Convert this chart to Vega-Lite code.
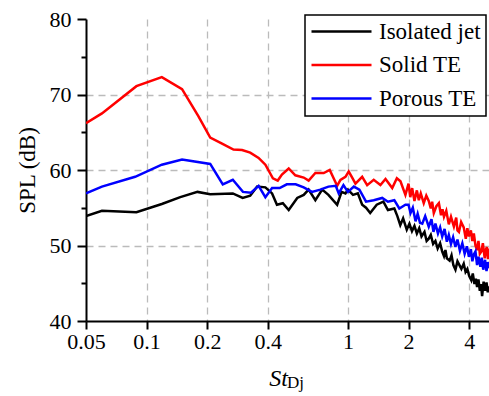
{
"$schema": "https://vega.github.io/schema/vega-lite/v6.json",
"width": 403, "height": 302,
"autosize": {"type": "none"},
"padding": {"left": 86, "top": 19, "right": 0, "bottom": 75},
"background": "white",
"config": {"view": {"stroke": null}, "font": "Liberation Serif",
  "axis": {"labelFont": "Liberation Serif", "titleFont": "Liberation Serif"},
  "legend": {"strokeWidth": 1.5, "labelFont": "Liberation Serif"}},
"title": {"text": "Dj", "orient": "bottom", "anchor": "middle", "fontSize": 17, "fontWeight": "normal", "font": "Liberation Serif", "color": "black", "dx": 8, "dy": -6, "baseline": "alphabetic"},
"data": {"values": [
{"c":"Isolated jet","st":0.05,"spl":53.9},{"c":"Isolated jet","st":0.06,"spl":54.6},{"c":"Isolated jet","st":0.089,"spl":54.4},{"c":"Isolated jet","st":0.119,"spl":55.5},{"c":"Isolated jet","st":0.147,"spl":56.4},{"c":"Isolated jet","st":0.179,"spl":57.1},{"c":"Isolated jet","st":0.207,"spl":56.8},{"c":"Isolated jet","st":0.268,"spl":56.9},{"c":"Isolated jet","st":0.3,"spl":56.3},{"c":"Isolated jet","st":0.327,"spl":56.6},{"c":"Isolated jet","st":0.354,"spl":57.8},{"c":"Isolated jet","st":0.389,"spl":57.7},{"c":"Isolated jet","st":0.42,"spl":56.9},{"c":"Isolated jet","st":0.444,"spl":55.4},{"c":"Isolated jet","st":0.475,"spl":55.6},{"c":"Isolated jet","st":0.508,"spl":54.7},{"c":"Isolated jet","st":0.56,"spl":56.3},{"c":"Isolated jet","st":0.603,"spl":56.7},{"c":"Isolated jet","st":0.638,"spl":57.4},{"c":"Isolated jet","st":0.689,"spl":56.0},{"c":"Isolated jet","st":0.745,"spl":57.4},{"c":"Isolated jet","st":0.8,"spl":56.7},{"c":"Isolated jet","st":0.884,"spl":55.4},{"c":"Isolated jet","st":0.93,"spl":57.1},{"c":"Isolated jet","st":0.972,"spl":56.9},{"c":"Isolated jet","st":1.0,"spl":57.4},{"c":"Isolated jet","st":1.06,"spl":56.7},{"c":"Isolated jet","st":1.12,"spl":56.9},{"c":"Isolated jet","st":1.177,"spl":55.4},{"c":"Isolated jet","st":1.23,"spl":55.0},{"c":"Isolated jet","st":1.29,"spl":54.3},{"c":"Isolated jet","st":1.39,"spl":55.4},{"c":"Isolated jet","st":1.5,"spl":55.8},{"c":"Isolated jet","st":1.58,"spl":54.7},{"c":"Isolated jet","st":1.7,"spl":54.9},{"c":"Isolated jet","st":1.76,"spl":53.9},{"c":"Isolated jet","st":1.82,"spl":52.7},{"c":"Isolated jet","st":1.88,"spl":53.6},{"c":"Isolated jet","st":1.96,"spl":52.1},
{"c":"Isolated jet","st":2.02,"spl":52.9},{"c":"Isolated jet","st":2.08,"spl":51.9},{"c":"Isolated jet","st":2.14,"spl":52.6},{"c":"Isolated jet","st":2.2,"spl":51.6},{"c":"Isolated jet","st":2.26,"spl":52.3},{"c":"Isolated jet","st":2.32,"spl":51.2},{"c":"Isolated jet","st":2.4,"spl":51.8},{"c":"Isolated jet","st":2.46,"spl":50.6},{"c":"Isolated jet","st":2.52,"spl":50.9},{"c":"Isolated jet","st":2.58,"spl":51.4},{"c":"Isolated jet","st":2.65,"spl":50.2},{"c":"Isolated jet","st":2.72,"spl":50.6},{"c":"Isolated jet","st":2.79,"spl":49.6},{"c":"Isolated jet","st":2.87,"spl":50.3},{"c":"Isolated jet","st":2.94,"spl":49.2},{"c":"Isolated jet","st":3.0,"spl":48.6},{"c":"Isolated jet","st":3.05,"spl":49.4},{"c":"Isolated jet","st":3.1,"spl":48.3},{"c":"Isolated jet","st":3.2,"spl":48.0},{"c":"Isolated jet","st":3.27,"spl":48.7},{"c":"Isolated jet","st":3.34,"spl":47.4},{"c":"Isolated jet","st":3.42,"spl":46.8},{"c":"Isolated jet","st":3.5,"spl":47.9},{"c":"Isolated jet","st":3.58,"spl":47.4},{"c":"Isolated jet","st":3.66,"spl":46.9},{"c":"Isolated jet","st":3.76,"spl":47.6},{"c":"Isolated jet","st":3.84,"spl":46.5},{"c":"Isolated jet","st":3.92,"spl":46.9},{"c":"Isolated jet","st":4.0,"spl":46.0},{"c":"Isolated jet","st":4.1,"spl":45.4},{"c":"Isolated jet","st":4.17,"spl":46.3},{"c":"Isolated jet","st":4.25,"spl":44.9},{"c":"Isolated jet","st":4.32,"spl":45.6},{"c":"Isolated jet","st":4.38,"spl":44.5},{"c":"Isolated jet","st":4.45,"spl":45.5},{"c":"Isolated jet","st":4.52,"spl":44.0},{"c":"Isolated jet","st":4.58,"spl":44.9},{"c":"Isolated jet","st":4.64,"spl":43.3},{"c":"Isolated jet","st":4.72,"spl":45.2},{"c":"Isolated jet","st":4.8,"spl":44.0},{"c":"Isolated jet","st":4.88,"spl":45.1},{"c":"Isolated jet","st":4.95,"spl":43.8},{"c":"Isolated jet","st":5.02,"spl":44.6},
{"c":"Solid TE","st":0.05,"spl":66.2},{"c":"Solid TE","st":0.06,"spl":67.5},{"c":"Solid TE","st":0.089,"spl":71.1},{"c":"Solid TE","st":0.119,"spl":72.3},{"c":"Solid TE","st":0.15,"spl":70.7},{"c":"Solid TE","st":0.181,"spl":67.1},{"c":"Solid TE","st":0.207,"spl":64.3},{"c":"Solid TE","st":0.237,"spl":63.5},{"c":"Solid TE","st":0.27,"spl":62.7},{"c":"Solid TE","st":0.298,"spl":62.65},{"c":"Solid TE","st":0.327,"spl":62.3},{"c":"Solid TE","st":0.36,"spl":61.6},{"c":"Solid TE","st":0.389,"spl":60.7},{"c":"Solid TE","st":0.424,"spl":58.9},{"c":"Solid TE","st":0.448,"spl":58.6},{"c":"Solid TE","st":0.47,"spl":59.4},{"c":"Solid TE","st":0.508,"spl":60.2},{"c":"Solid TE","st":0.548,"spl":59.3},{"c":"Solid TE","st":0.603,"spl":59.0},{"c":"Solid TE","st":0.638,"spl":58.6},{"c":"Solid TE","st":0.689,"spl":59.6},{"c":"Solid TE","st":0.758,"spl":59.6},{"c":"Solid TE","st":0.812,"spl":60.0},{"c":"Solid TE","st":0.884,"spl":57.9},{"c":"Solid TE","st":0.918,"spl":58.7},{"c":"Solid TE","st":0.972,"spl":59.1},{"c":"Solid TE","st":1.009,"spl":59.8},{"c":"Solid TE","st":1.05,"spl":59.0},{"c":"Solid TE","st":1.09,"spl":58.2},{"c":"Solid TE","st":1.177,"spl":59.1},{"c":"Solid TE","st":1.246,"spl":58.0},{"c":"Solid TE","st":1.343,"spl":58.7},{"c":"Solid TE","st":1.45,"spl":58.0},{"c":"Solid TE","st":1.537,"spl":58.8},{"c":"Solid TE","st":1.66,"spl":57.6},{"c":"Solid TE","st":1.75,"spl":58.9},{"c":"Solid TE","st":1.824,"spl":58.5},{"c":"Solid TE","st":1.93,"spl":56.7},
{"c":"Solid TE","st":2.0,"spl":58.2},{"c":"Solid TE","st":2.04,"spl":56.4},{"c":"Solid TE","st":2.085,"spl":57.6},{"c":"Solid TE","st":2.14,"spl":55.9},{"c":"Solid TE","st":2.2,"spl":57.3},{"c":"Solid TE","st":2.25,"spl":56.0},{"c":"Solid TE","st":2.3,"spl":56.9},{"c":"Solid TE","st":2.38,"spl":55.6},{"c":"Solid TE","st":2.45,"spl":56.6},{"c":"Solid TE","st":2.52,"spl":55.9},{"c":"Solid TE","st":2.58,"spl":54.9},{"c":"Solid TE","st":2.62,"spl":55.8},{"c":"Solid TE","st":2.67,"spl":54.3},{"c":"Solid TE","st":2.75,"spl":55.2},{"c":"Solid TE","st":2.83,"spl":55.6},{"c":"Solid TE","st":2.9,"spl":54.0},{"c":"Solid TE","st":2.95,"spl":54.8},{"c":"Solid TE","st":3.0,"spl":53.8},{"c":"Solid TE","st":3.08,"spl":54.6},{"c":"Solid TE","st":3.17,"spl":52.8},{"c":"Solid TE","st":3.25,"spl":53.8},{"c":"Solid TE","st":3.36,"spl":52.5},{"c":"Solid TE","st":3.45,"spl":53.7},{"c":"Solid TE","st":3.5,"spl":52.0},{"c":"Solid TE","st":3.56,"spl":51.8},{"c":"Solid TE","st":3.65,"spl":53.1},{"c":"Solid TE","st":3.76,"spl":52.4},{"c":"Solid TE","st":3.85,"spl":50.9},{"c":"Solid TE","st":3.92,"spl":52.3},{"c":"Solid TE","st":3.99,"spl":51.2},{"c":"Solid TE","st":4.08,"spl":52.0},{"c":"Solid TE","st":4.15,"spl":50.6},{"c":"Solid TE","st":4.22,"spl":51.6},{"c":"Solid TE","st":4.3,"spl":50.0},{"c":"Solid TE","st":4.38,"spl":49.4},{"c":"Solid TE","st":4.45,"spl":50.6},{"c":"Solid TE","st":4.52,"spl":48.9},{"c":"Solid TE","st":4.6,"spl":49.2},{"c":"Solid TE","st":4.68,"spl":50.3},{"c":"Solid TE","st":4.78,"spl":48.3},{"c":"Solid TE","st":4.85,"spl":49.5},{"c":"Solid TE","st":4.9,"spl":49.8},{"c":"Solid TE","st":4.96,"spl":48.2},{"c":"Solid TE","st":5.02,"spl":49.6},
{"c":"Porous TE","st":0.05,"spl":56.9},{"c":"Porous TE","st":0.06,"spl":57.8},{"c":"Porous TE","st":0.0877,"spl":59.1},{"c":"Porous TE","st":0.119,"spl":60.7},{"c":"Porous TE","st":0.15,"spl":61.4},{"c":"Porous TE","st":0.207,"spl":60.8},{"c":"Porous TE","st":0.239,"spl":58.1},{"c":"Porous TE","st":0.268,"spl":58.7},{"c":"Porous TE","st":0.301,"spl":57.1},{"c":"Porous TE","st":0.33,"spl":57.0},{"c":"Porous TE","st":0.36,"spl":57.9},{"c":"Porous TE","st":0.389,"spl":56.4},{"c":"Porous TE","st":0.42,"spl":57.6},{"c":"Porous TE","st":0.458,"spl":57.6},{"c":"Porous TE","st":0.497,"spl":58.1},{"c":"Porous TE","st":0.55,"spl":58.1},{"c":"Porous TE","st":0.603,"spl":57.7},{"c":"Porous TE","st":0.663,"spl":57.1},{"c":"Porous TE","st":0.729,"spl":57.4},{"c":"Porous TE","st":0.8,"spl":57.8},{"c":"Porous TE","st":0.87,"spl":57.9},{"c":"Porous TE","st":0.9,"spl":56.9},{"c":"Porous TE","st":0.95,"spl":58.0},{"c":"Porous TE","st":1.0,"spl":57.1},{"c":"Porous TE","st":1.07,"spl":57.8},{"c":"Porous TE","st":1.14,"spl":57.4},{"c":"Porous TE","st":1.23,"spl":55.8},{"c":"Porous TE","st":1.343,"spl":56.0},{"c":"Porous TE","st":1.48,"spl":56.3},{"c":"Porous TE","st":1.58,"spl":55.8},{"c":"Porous TE","st":1.7,"spl":56.0},{"c":"Porous TE","st":1.8,"spl":54.9},{"c":"Porous TE","st":1.93,"spl":55.4},
{"c":"Porous TE","st":2.0,"spl":55.4},{"c":"Porous TE","st":2.046,"spl":54.3},{"c":"Porous TE","st":2.1,"spl":55.0},{"c":"Porous TE","st":2.167,"spl":53.2},{"c":"Porous TE","st":2.22,"spl":54.2},{"c":"Porous TE","st":2.28,"spl":53.0},{"c":"Porous TE","st":2.34,"spl":52.9},{"c":"Porous TE","st":2.42,"spl":53.9},{"c":"Porous TE","st":2.52,"spl":52.5},{"c":"Porous TE","st":2.6,"spl":53.5},{"c":"Porous TE","st":2.66,"spl":51.8},{"c":"Porous TE","st":2.72,"spl":52.9},{"c":"Porous TE","st":2.8,"spl":51.6},{"c":"Porous TE","st":2.87,"spl":52.4},{"c":"Porous TE","st":2.94,"spl":51.2},{"c":"Porous TE","st":3.02,"spl":52.2},{"c":"Porous TE","st":3.1,"spl":50.5},{"c":"Porous TE","st":3.17,"spl":51.4},{"c":"Porous TE","st":3.25,"spl":50.2},{"c":"Porous TE","st":3.33,"spl":51.1},{"c":"Porous TE","st":3.42,"spl":49.8},{"c":"Porous TE","st":3.5,"spl":50.8},{"c":"Porous TE","st":3.6,"spl":49.3},{"c":"Porous TE","st":3.7,"spl":50.3},{"c":"Porous TE","st":3.8,"spl":48.9},{"c":"Porous TE","st":3.9,"spl":49.9},{"c":"Porous TE","st":3.99,"spl":48.5},{"c":"Porous TE","st":4.08,"spl":49.5},{"c":"Porous TE","st":4.15,"spl":47.9},{"c":"Porous TE","st":4.22,"spl":48.8},{"c":"Porous TE","st":4.3,"spl":49.2},{"c":"Porous TE","st":4.38,"spl":47.4},{"c":"Porous TE","st":4.45,"spl":48.5},{"c":"Porous TE","st":4.55,"spl":47.2},{"c":"Porous TE","st":4.62,"spl":48.4},{"c":"Porous TE","st":4.7,"spl":46.8},{"c":"Porous TE","st":4.8,"spl":48.1},{"c":"Porous TE","st":4.88,"spl":46.6},{"c":"Porous TE","st":4.95,"spl":47.8},{"c":"Porous TE","st":5.02,"spl":47.0}
]},
"mark": {"type": "line", "strokeWidth": 2.5, "clip": true},
"encoding": {
  "x": {"field": "st", "type": "quantitative",
    "scale": {"type": "log", "domain": [0.05, 5.02], "nice": false},
    "axis": {"values": [0.05, 0.1, 0.2, 0.4, 1, 2, 4], "labelExpr": "'' + datum.value",
      "title": "St", "titleFont": "Liberation Serif", "titleFontStyle": "italic", "titleFontSize": 24, "titleFontWeight": "normal", "titleColor": "black",
      "titleX": 192, "titleY": 64, "titleBaseline": "alphabetic", "titleAlign": "center",
      "labelFont": "Liberation Serif", "labelFontSize": 22, "labelColor": "black", "labelPadding": 2, "labelFlush": false,
      "domainColor": "black", "domainWidth": 2, "tickColor": "black", "tickWidth": 2, "tickSize": 8,
      "grid": true, "gridColor": "#bbbbbb", "gridDash": [7, 5], "gridWidth": 1.3,
      "gridOpacity": {"condition": {"test": "datum.value < 0.06", "value": 0}, "value": 1}}},
  "y": {"field": "spl", "type": "quantitative",
    "scale": {"domain": [40, 80], "nice": false},
    "axis": {"values": [40, 45, 50, 55, 60, 65, 70, 75, 80],
      "labelExpr": "datum.value % 10 === 0 ? datum.label : ''",
      "title": "SPL (dB)", "titleFont": "Liberation Serif", "titleFontSize": 23, "titleFontWeight": "normal", "titleColor": "black",
      "titleX": -59, "titleBaseline": "middle",
      "labelFont": "Liberation Serif", "labelFontSize": 22, "labelColor": "black", "labelPadding": 6,
      "domainColor": "black", "domainWidth": 2, "tickColor": "black", "tickWidth": 2,
      "tickSize": {"condition": {"test": "datum.value % 10 === 0", "value": 9}, "value": 5},
      "grid": true, "gridColor": "#bbbbbb", "gridDash": [7, 5], "gridWidth": 1.3,
      "gridOpacity": {"condition": {"test": "datum.value % 10 === 0 && datum.value > 40 && datum.value < 80", "value": 1}, "value": 0}}},
  "color": {"field": "c", "type": "nominal",
    "scale": {"domain": ["Isolated jet", "Solid TE", "Porous TE"], "range": ["#000000", "#ff0000", "#0000ff"]},
    "legend": {"orient": "none", "legendX": 219, "legendY": -4, "title": null,
      "symbolType": "M-1,0H5", "symbolSize": 400, "symbolStrokeWidth": 2.5,
      "labelFont": "Liberation Serif", "labelFontSize": 23, "labelColor": "black", "labelOffset": 46, "labelLimit": 300,
      "strokeColor": "black", "fillColor": "white", "padding": 5, "rowPadding": 9.5}}
}
}
